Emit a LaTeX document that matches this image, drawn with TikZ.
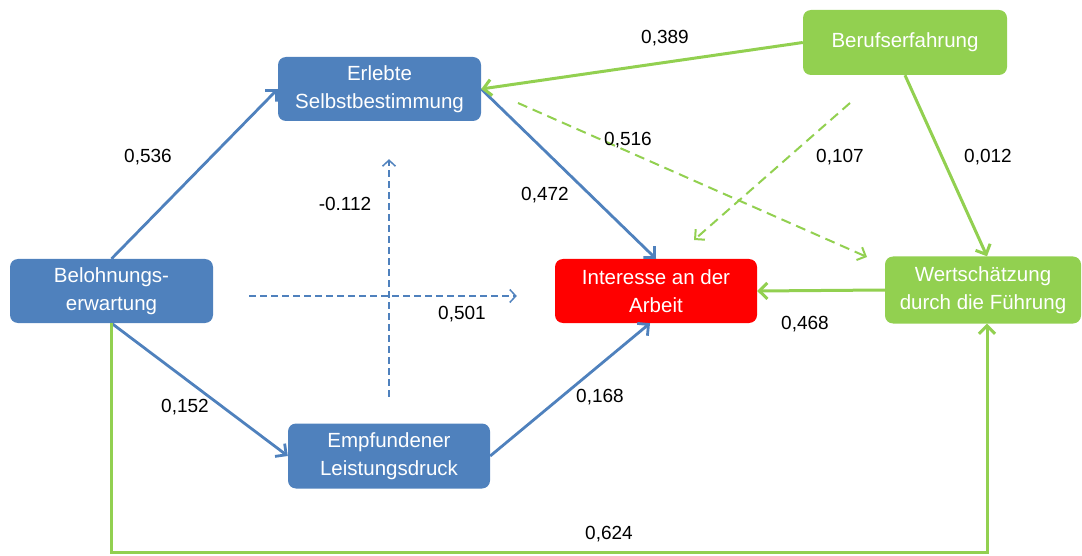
\documentclass[tikz,border=0pt]{standalone}
\usepackage{fontspec}
\setmainfont{Liberation Sans}
\usetikzlibrary{arrows.meta,calc}
\definecolor{boxblue}{HTML}{4F81BD}
\definecolor{boxgreen}{HTML}{92D050}
\definecolor{boxred}{HTML}{FF0000}
\begin{document}
\begin{tikzpicture}[x=1pt,y=-1pt,
  box/.style={rounded corners=8pt, minimum width=203pt, minimum height=64pt, inner sep=0pt, align=center, text=white, font=\fontsize{20.5}{27.5}\selectfont},
  bluebox/.style={box, fill=boxblue},
  greenbox/.style={box, fill=boxgreen},
  redbox/.style={box, fill=boxred},
  lab/.style={font=\fontsize{19}{21}\selectfont, inner sep=0pt, text=black},
  bline/.style={draw=boxblue, line width=2.8pt, -{Straight Barb[length=8pt,width=16pt]}},
  gline/.style={draw=boxgreen, line width=3pt, -{Straight Barb[length=8pt,width=16pt]}},
  bdash/.style={draw=boxblue, line width=1.5pt, dash pattern=on 7pt off 4pt, -{Straight Barb[length=6pt,width=13pt]}},
  gdash/.style={draw=boxgreen, line width=2pt, dash pattern=on 10pt off 6pt, -{Straight Barb[length=7pt,width=14pt]}}
]
\useasboundingbox (0,0) rectangle (1082,556);

\node[bluebox] (bel) at (111.5,291) {Belohnungs-\\erwartung};
\node[bluebox] (erl) at (379.5,89) {Erlebte\\Selbstbestimmung};
\node[bluebox, minimum width=202pt, minimum height=65pt] (emp) at (389,456) {Empfundener\\Leistungsdruck};
\node[redbox, minimum width=202pt] (int) at (656,291) {Interesse an der\\Arbeit};
\node[greenbox, minimum width=196pt, minimum height=67pt] (wer) at (983,290) {Wertschätzung\\durch die Führung};
\node[greenbox, minimum width=204pt, minimum height=65pt] (ber) at (905,42.5) {Berufserfahrung};

% solid blue
\draw[bline] (bel.north) -- (erl.west);
\draw[bline] (bel.south) -- (emp.west);
\draw[bline] (erl.east) -- (int.north);
\draw[bline] (emp.east) -- ($(int.south)+(-6,0)$);

% solid green
\draw[gline] (ber.west) -- (erl.east);
\draw[gline] (ber.south) -- ($(wer.north)+(4,0)$);
\draw[gline] (wer.west) -- (int.east);
\coordinate (bot) at (0,552);
\draw[gline] (bel.south) -- (bel.south |- bot) -| ($(wer.south)+(4,0)$);

% dashed blue
\draw[bdash, shorten <=36pt, shorten >=38pt] ($(bel.east)+(0,5)$) -- ($(int.west)+(0,5)$);
\draw[bdash, shorten <=26.5pt, shorten >=38pt] (emp.north) -- (emp.north |- erl.south);

% dashed green
\coordinate (g1s) at (518,103);
\coordinate (g1e) at (867,257);
\coordinate (g2s) at (850,103);
\coordinate (g2e) at (694,240);
\draw[gdash] (g1s) -- (g1e);
\draw[gdash] (g2s) -- (g2e);

% labels
\node[lab] (l389) at (665,38) {0,389};
\node[lab] (l536) at (148,157) {0,536};
\node[lab] (l516) at (628,140) {0,516};
\node[lab] (l107) at (840,157) {0,107};
\node[lab] (l012) at (988,157) {0,012};
\node[lab] (l112) at (345,204) {-0.112};
\node[lab] (l472) at (545,195) {0,472};
\node[lab] (l501) at (462,314) {0,501};
\node[lab] (l468) at (805,324) {0,468};
\node[lab] (l152) at (185,407) {0,152};
\node[lab] (l168) at (600,397) {0,168};
\node[lab] (l624) at (609,534) {0,624};
\end{tikzpicture}
\end{document}
